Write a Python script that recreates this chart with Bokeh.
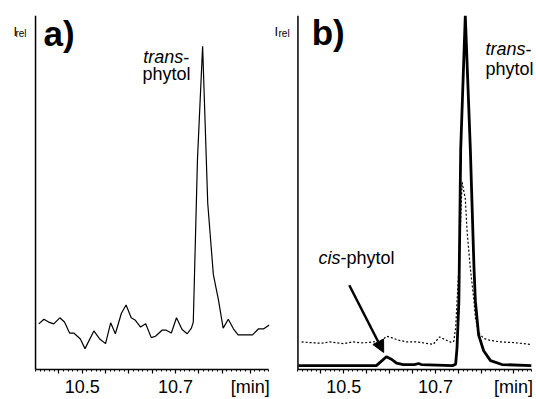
from bokeh.plotting import figure
from bokeh.layouts import row
from bokeh.models import Range1d, FixedTicker, Label, Arrow, NormalHead, Span
from bokeh.embed import file_html
from bokeh.resources import INLINE

# ---------------- data (retention time [min], relative intensity) ----------------
# panel a)
time_a = [10.407, 10.418, 10.428, 10.439, 10.452, 10.462, 10.473, 10.482, 10.496, 10.506,
          10.525, 10.537, 10.550, 10.561, 10.571, 10.584, 10.594, 10.605, 10.614, 10.625,
          10.636, 10.648, 10.657, 10.671, 10.680, 10.691, 10.702, 10.714, 10.725, 10.734,
          10.738, 10.747, 10.758, 10.769, 10.781, 10.792, 10.802, 10.813, 10.824, 10.834,
          10.865, 10.878, 10.889, 10.901]
int_a = [12.9, 14.2, 13.4, 12.9, 14.6, 13.4, 10.3, 10.3, 8.6, 5.9,
         10.9, 8.7, 7.3, 13.2, 10.1, 15.9, 18.2, 14.6, 13.9, 12.0,
         12.9, 9.0, 9.4, 11.1, 11.1, 10.3, 14.6, 11.3, 10.1, 11.7,
         13.4, 59.5, 91.3, 46.9, 26.8, 19.6, 11.7, 14.2, 11.5, 9.8,
         9.8, 11.5, 11.5, 12.6]

# panel b) solid trace
time_b1 = [10.401, 10.571, 10.593, 10.604, 10.615, 10.630, 10.654, 10.663, 10.669, 10.737,
           10.744, 10.747, 10.751, 10.755, 10.765, 10.776, 10.784, 10.787, 10.794, 10.805,
           10.820, 10.845, 10.909]
int_b1 = [1.1, 1.1, 3.6, 2.9, 1.8, 1.4, 1.4, 1.7, 1.4, 1.1,
          1.5, 6.2, 19.3, 62.2, 100.0, 62.2, 28.6, 19.3, 9.8, 5.3,
          2.5, 1.4, 1.1]

# panel b) dotted trace
time_b2 = [10.408, 10.426, 10.451, 10.469, 10.499, 10.520, 10.542, 10.564, 10.582, 10.593,
           10.604, 10.619, 10.637, 10.659, 10.680, 10.695, 10.709, 10.720, 10.735, 10.740,
           10.744, 10.747, 10.751, 10.758, 10.765, 10.769, 10.776, 10.784, 10.787, 10.794,
           10.805, 10.820, 10.842, 10.871, 10.907]
int_b2 = [7.8, 7.6, 7.4, 7.8, 7.3, 7.8, 7.5, 7.8, 8.0, 9.4,
          9.0, 8.3, 7.8, 7.8, 7.4, 7.1, 9.2, 8.5, 7.6, 8.0,
          11.8, 19.2, 28.6, 52.9, 48.2, 38.9, 28.6, 19.3, 14.6, 10.4,
          8.8, 8.2, 7.8, 7.6, 7.1]

major_ticks_a = [10.45, 10.5, 10.55, 10.6, 10.65, 10.7, 10.75, 10.8, 10.86]
major_ticks_b = [10.45, 10.5, 10.55, 10.6, 10.65, 10.7, 10.75, 10.8, 10.87]
labels_a = {10.45: "", 10.5: "10.5", 10.55: "", 10.6: "", 10.65: "", 10.7: "10.7",
            10.75: "", 10.8: "", 10.86: "[min]"}
labels_b = {10.45: "", 10.5: "10.5", 10.55: "", 10.6: "", 10.65: "", 10.7: "10.7",
            10.75: "", 10.8: "", 10.87: "[min]"}
minor_ticks = [round(10.40 + 0.01 * i, 2) for i in range(52)]

FONT = "Liberation Sans"


def make_fig(width, xr, bounds, border_left, border_right, ticks, labels):
    p = figure(width=width, height=399, x_range=Range1d(*xr), y_range=Range1d(0, 100),
               output_backend="svg", toolbar_location=None, y_axis_location=None,
               min_border_left=border_left, min_border_right=border_right,
               min_border_top=15, min_border_bottom=26)
    p.outline_line_color = None
    p.grid.visible = False
    p.background_fill_color = "white"
    p.border_fill_color = "white"
    ax = p.xaxis[0]
    ax.bounds = bounds
    ax.ticker = FixedTicker(ticks=ticks, minor_ticks=minor_ticks)
    ax.major_label_overrides = labels
    ax.major_tick_out = 4
    ax.major_tick_in = 0
    ax.minor_tick_out = 2
    ax.minor_tick_in = 0
    ax.axis_line_width = 1.5
    ax.major_tick_line_width = 1.2
    ax.minor_tick_line_width = 1
    ax.major_label_text_font = FONT
    ax.major_label_text_font_size = "18px"
    ax.major_label_text_color = "black"
    ax.major_label_standoff = 3
    # vertical intensity axis line at the start of the time axis
    p.add_layout(Span(location=bounds[0], dimension="height",
                      line_color="black", line_width=1.5))
    return p


def add_text(p, x, y, text, size="18px", style="normal", x_offset=0):
    p.add_layout(Label(x=x, y=y, text=text, text_font=FONT, text_font_size=size,
                       text_font_style=style, text_color="black",
                       text_baseline="alphabetic", text_align="left", x_offset=x_offset))


# ---------------- panel a ----------------
pa = make_fig(270, (10.3335, 10.9013), (10.40, 10.90), 4, 1, major_ticks_a, labels_a)
pa.line(time_a, int_a, line_color="black", line_width=1.2)
add_text(pa, 10.417, 95.0, "a)", size="35px", style="bold")
add_text(pa, 10.631, 88.2, "trans", style="italic")
add_text(pa, 10.631, 88.2, "-", x_offset=40)
add_text(pa, 10.629, 83.4, "phytol")
add_text(pa, 10.3528, 95.6, "I", size="13px")
add_text(pa, 10.357, 95.0, "rel", size="10px")

# ---------------- panel b ----------------
pb = make_fig(266, (10.3445, 10.9203), (10.40, 10.91), 2, 0, major_ticks_b, labels_b)
pb.line(time_b2, int_b2, line_color="black", line_width=1.2, line_dash="2 2")
pb.line(time_b1, int_b1, line_color="black", line_width=2.8)
add_text(pb, 10.430, 95.3, "b)", size="35px", style="bold")
add_text(pb, 10.809, 90.4, "trans", style="italic")
add_text(pb, 10.809, 90.4, "-", x_offset=40)
add_text(pb, 10.809, 84.8, "phytol")
add_text(pb, 10.445, 31.6, "cis", style="italic")
add_text(pb, 10.445, 31.6, "-phytol", x_offset=22)
add_text(pb, 10.3489, 95.6, "I", size="13px")
add_text(pb, 10.3576, 95.0, "rel", size="10px")

arrow_start = (10.512, 23.8)
arrow_end = (10.587, 4.8)
pb.add_layout(Arrow(end=NormalHead(size=12, fill_color="black", line_color="black"),
                    x_start=arrow_start[0], y_start=arrow_start[1],
                    x_end=arrow_end[0], y_end=arrow_end[1],
                    line_color="black", line_width=2.5))

layout = row(pa, pb)
open("out.html", "w").write(file_html(layout, INLINE))
